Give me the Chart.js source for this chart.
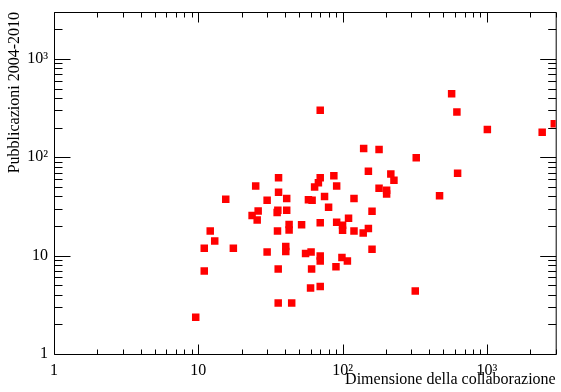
<!DOCTYPE html>
<html><head><meta charset="utf-8">
<script src="https://cdn.jsdelivr.net/npm/chart.js@4/dist/chart.umd.min.js"></script>
<style>html,body{margin:0;padding:0;background:#fff}#wrap{width:561px;height:392px}</style>
</head><body><div id="wrap"><canvas id="c" width="561" height="392"></canvas></div>
<script>
// Dimensione della collaborazione (x) for each point
const collabSize = [
  70, 140, 179, 151, 36, 70, 87, 68, 64, 91,
  25, 36, 15.5, 30, 41, 58, 61.5, 75, 120, 80,
  26, 35.6, 35.2, 41, 160, 23.6, 25.6, 110, 42.6, 42.6,
  52, 70, 91, 100, 100, 120, 151, 139, 35.4, 12.1,
  13, 11, 17.5, 40.4, 40.4, 160, 30, 55.4, 60.5, 70,
  70, 99, 108, 90, 11, 35.8, 61, 60, 70, 35.8,
  44.4, 9.6, 570, 620, 1008, 2418, 2934, 324, 627, 470,
  319, 216, 227, 179, 202, 202
];
// Pubblicazioni 2004-2010 (y) for each point
const publications = [
  300, 123, 120, 72, 62, 62, 65, 55, 50, 51,
  51, 44, 37.5, 36.6, 38, 37, 36.5, 40, 38, 31,
  28.5, 29, 27.5, 29, 28.3, 25.6, 23, 24, 20.7, 18.2,
  20.6, 21.6, 21.9, 20.4, 18.1, 17.8, 18.9, 17, 17.8, 17.8,
  14.1, 11.9, 11.9, 12.4, 11, 11.6, 10.9, 10.5, 10.9, 9.9,
  8.8, 9.6, 8.8, 7.7, 7, 7.3, 7.3, 4.7, 4.85, 3.3,
  3.3, 2.37, 442, 288, 192, 180, 219, 99, 69, 40.7,
  4.36, 67.7, 58.4, 48.5, 46.3, 42.4
];
const axisMin = 1, axisMax = 3000;
const decades = [1, 10, 100, 1000];
const tickValues = [];
decades.forEach(d => { for (let k = 1; k <= 9; k++) { if (d * k <= axisMax) tickValues.push(d * k); } });
const majorTickValues = [1, 10, 100, 1000];
const majorTickLabels = ['1', '10', '10\u00B2', '10\u00B3'];
const xTitle = 'Dimensione della collaborazione';
const yTitle = 'Pubblicazioni 2004-2010';

function labelFor(v) {
  const i = majorTickValues.indexOf(v);
  return i >= 0 ? majorTickLabels[i] : '';
}
const font = {family: 'Liberation Serif', size: 16};

const frameTicks = {
  id: 'frameTicks',
  beforeDatasetsDraw(chart) {
    const {ctx, chartArea: a, scales: {x, y}} = chart;
    const L = a.left + 0.5, R = a.right + 0.5, T = a.top + 0.5, B = a.bottom + 0.5;
    ctx.save();
    ctx.strokeStyle = '#000';
    ctx.lineWidth = 1;
    ctx.beginPath();
    ctx.rect(L, T, R - L, B - T);
    x.ticks.forEach(t => {
      const px = Math.round(x.getPixelForValue(t.value)) + 0.5;
      const len = majorTickValues.includes(t.value) ? 10 : 5;
      ctx.moveTo(px, B); ctx.lineTo(px, B - len);
      ctx.moveTo(px, T); ctx.lineTo(px, T + len);
    });
    y.ticks.forEach(t => {
      const py = Math.round(y.getPixelForValue(t.value)) + 0.5;
      const len = majorTickValues.includes(t.value) ? 16 : 8;
      ctx.moveTo(L, py); ctx.lineTo(L + len, py);
      ctx.moveTo(R, py); ctx.lineTo(R - len, py);
    });
    ctx.stroke();
    ctx.restore();
  }
};

new Chart(document.getElementById('c'), {
  type: 'scatter',
  data: {
    datasets: [{
      data: collabSize.map((v, i) => ({x: v, y: publications[i]})),
      pointStyle: 'rect',
      pointRadius: 5.3,
      pointHoverRadius: 5.3,
      backgroundColor: '#ff0000',
      borderWidth: 0,
      pointBorderWidth: 0
    }]
  },
  options: {
    responsive: false,
    animation: false,
    layout: {padding: {top: 12, right: 1, left: 0, bottom: 0}},
    plugins: {legend: {display: false}, tooltip: {enabled: false}},
    scales: {
      x: {
        type: 'logarithmic', position: 'bottom', min: axisMin, max: axisMax,
        grid: {display: false, drawTicks: false}, border: {display: false},
        ticks: {autoSkip: false, maxRotation: 0, minRotation: 0, padding: 7, color: '#000', font: font,
                callback: v => labelFor(v)},
        afterBuildTicks: s => { s.ticks = tickValues.map(v => ({value: v})); },
        afterFit: s => { s.height = 38; s.paddingLeft = 0; s.paddingRight = 0; s.paddingTop = 0; s.paddingBottom = 0; },
        title: {display: true, text: xTitle, align: 'end', color: '#000', font: font, padding: {top: 0, bottom: 3}}
      },
      y: {
        type: 'logarithmic', position: 'left', min: axisMin, max: axisMax,
        grid: {display: false, drawTicks: false}, border: {display: false},
        ticks: {autoSkip: false, padding: 6, color: '#000', font: font,
                callback: v => labelFor(v)},
        afterBuildTicks: s => { s.ticks = tickValues.map(v => ({value: v})); },
        afterFit: s => { s.width = 54; s.paddingLeft = 0; s.paddingRight = 0; s.paddingTop = 0; s.paddingBottom = 0; },
        title: {display: true, text: yTitle, align: 'end', color: '#000', font: font, padding: {top: 5, bottom: 0}}
      }
    }
  },
  plugins: [frameTicks]
});
</script>
</body></html>
